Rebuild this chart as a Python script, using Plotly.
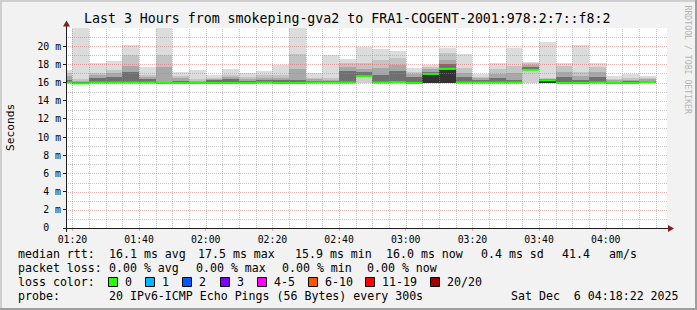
import plotly.graph_objects as go

# ---------------- data ----------------
title_text = "Last 3 Hours from smokeping-gva2 to FRA1-COGENT-2001:978:2:7::f8:2"
window_start = "01:18:22"
window_end = "04:18:22"

bar_start = ["01:15", "01:20", "01:25", "01:30", "01:35", "01:40", "01:45", "01:50",
             "01:55", "02:00", "02:05", "02:10", "02:15", "02:20", "02:25", "02:30",
             "02:35", "02:40", "02:45", "02:50", "02:55", "03:00", "03:05", "03:10",
             "03:15", "03:20", "03:25", "03:30", "03:35", "03:40", "03:45", "03:50",
             "03:55", "04:00", "04:05", "04:10"]

# values in ms
smoke_min = [15.9, 15.85, 15.9, 15.9, 15.9, 15.9, 15.85, 15.9, 15.9, 15.9, 15.9, 15.9,
             15.9, 15.9, 15.9, 15.9, 15.9, 15.9, 16.0, 15.9, 15.9, 15.9, 15.9, 15.9,
             15.9, 15.9, 15.9, 15.9, 16.0, 15.95, 15.9, 15.9, 15.9, 15.9, 15.9, 15.95]
smoke_p10 = [15.95, 15.88, 15.95, 15.95, 15.95, 15.95, 15.9, 15.92, 15.92, 15.92, 15.92, 15.92,
             15.95, 15.92, 15.92, 15.95, 15.95, 15.95, 16.6, 15.95, 16.0, 15.92, 15.95, 15.95,
             15.95, 15.95, 15.95, 15.95, 17.35, 16.0, 15.92, 15.92, 15.95, 15.92, 15.92, 16.0]
rtt_median = [16.0, 15.9, 16.0, 16.0, 16.0, 16.0, 15.95, 15.95, 15.95, 15.95, 15.95, 15.95,
              16.0, 15.95, 15.95, 16.0, 16.0, 16.0, 16.7, 16.0, 16.05, 15.95, 16.95, 17.5,
              16.0, 16.0, 16.0, 16.0, 17.4, 16.25, 15.95, 15.95, 16.0, 15.95, 15.95, 16.05]
smoke_q1 = [16.3, 16.1, 16.5, 16.6, 17.15, 16.4, 16.1, 16.2, 16.1, 16.25, 16.4, 16.2,
            16.3, 16.3, 16.25, 16.2, 16.15, 17.3, 17.15, 16.8, 17.3, 16.6, 17.2, 18.0,
            16.6, 16.3, 16.5, 16.3, 17.75, 16.35, 16.6, 16.3, 16.6, 16.1, 16.15, 16.2]
smoke_q2 = [16.7, 16.2, 16.8, 17.0, 17.8, 16.6, 17.75, 16.45, 16.2, 16.4, 16.6, 16.4,
            16.5, 16.55, 17.5, 16.35, 16.3, 17.7, 17.5, 17.6, 17.9, 16.9, 17.45, 18.5,
            17.0, 16.45, 16.9, 17.0, 17.95, 16.4, 17.2, 16.7, 17.2, 16.25, 16.3, 16.35]
smoke_q3 = [17.0, 16.35, 17.05, 17.4, 19.05, 16.8, 19.05, 16.75, 16.35, 16.55, 16.8, 16.6,
            16.8, 16.8, 19.1, 16.5, 16.5, 18.1, 18.1, 18.5, 18.7, 17.2, 17.7, 19.3,
            17.6, 16.65, 17.5, 17.85, 18.1, 16.45, 17.8, 17.15, 17.75, 16.4, 16.45, 16.5]
smoke_max = [17.4, 22.5, 18.2, 18.35, 20.1, 17.7, 22.5, 17.15, 17.4, 16.8, 17.45, 17.0,
             17.25, 17.9, 22.5, 17.1, 19.05, 18.55, 19.9, 19.7, 19.5, 17.6, 17.9, 19.85,
             19.1, 16.95, 18.2, 19.75, 18.3, 20.5, 18.1, 20.1, 18.1, 16.7, 16.95, 16.7]

y_tick_vals = [0, 2, 4, 6, 8, 10, 12, 14, 16, 18, 20]
y_tick_text = ["0\u00a0\u00a0", "2 m", "4 m", "6 m", "8 m", "10 m", "12 m", "14 m", "16 m", "18 m", "20 m"]
x_tick_labels = ["01:20", "01:40", "02:00", "02:20", "02:40", "03:00", "03:20", "03:40", "04:00"]

legend_rtt = [("median rtt:", 16), ("16.1 ms avg", 107), ("17.5 ms max", 196), ("15.9 ms min", 293),
              ("16.0 ms now", 384), ("0.4 ms sd", 479), ("41.4", 560), ("am/s", 607)]
legend_loss = [("packet loss:", 16), ("0.00 % avg", 107), ("0.00 % max", 194),
               ("0.00 % min", 280), ("0.00 % now", 365)]
loss_labels = ["0", "1", "2", "3", "4-5", "6-10", "11-19", "20/20"]
loss_colors = ["#26ff00", "#00b8ff", "#0059ff", "#7e00ff", "#ff00ff", "#ff5500", "#ff0000", "#a10000"]
loss_box_x = [108, 145, 182, 220, 257, 308, 365, 430]
probe_text = "20 IPv6-ICMP Echo Pings (56 Bytes) every 300s"
date_text = "Sat Dec  6 04:18:22 2025"
watermark = "RRDTOOL / TOBI OETIKER"

# ---------------- layout geometry (pixels) ----------------
W, H = 697, 310
PL, PR, PT, PB = 67, 667, 28, 228
MONO = "DejaVu Sans Mono"
Y_MAX = 22.0


def fx(px):
    return (px - PL) / (PR - PL)


def fy(py):
    return (PB - py) / (PB - PT)


def hm(s):
    p = [int(v) for v in s.split(":")]
    return p[0] * 60 + p[1] + (p[2] / 60.0 if len(p) > 2 else 0.0)


def nb(s):
    return s.replace(" ", "\u00a0")


step = 5.0
x_left = [hm(s) for s in bar_start]
x_center = [v + step / 2 for v in x_left]
t0, t1 = hm(window_start), hm(window_end)
x_tick_vals = [hm(s) for s in x_tick_labels]


def val2py(v):  # y value -> pixel row, snapped to pixel centre for crisp grid
    return round(PB - v * (PB - PT) / Y_MAX) + 0.5


def t2px(t):
    return round(PL + (t - t0) * (PR - PL) / (t1 - t0)) + 0.5


fig = go.Figure()

bands = [
    (smoke_min, smoke_p10, "#d0d0d0"),
    (smoke_p10, rtt_median, "#333333"),
    (rtt_median, smoke_q1, "#707070"),
    (smoke_q1, smoke_q2, "#a8a8a8"),
    (smoke_q2, smoke_q3, "#c4c4c4"),
    (smoke_q3, smoke_max, "#dcdcdc"),
]
for lo, hi, col in bands:
    fig.add_trace(go.Bar(
        x=x_center, base=lo, y=[h - l for l, h in zip(lo, hi)], width=step,
        marker=dict(color=col, line=dict(width=0)),
        hoverinfo="skip", showlegend=False))

mx, my = [], []
for xl, m in zip(x_left, rtt_median):
    mx += [xl, xl + step, None]
    my += [m, m, None]
fig.add_trace(go.Scatter(x=mx, y=my, mode="lines", line=dict(color=loss_colors[0], width=2),
                         hoverinfo="skip", showlegend=False))

shapes = []
MINOR = "rgba(143,143,143,0.5)"
MAJOR = "rgba(222,79,79,0.45)"
for v in range(1, 22):
    py = val2py(v)
    shapes.append(dict(type="line", xref="paper", yref="paper", x0=fx(PL + 1), x1=1, y0=fy(py), y1=fy(py),
                       layer="above",
                       line=dict(color=MAJOR if v % 2 == 0 else MINOR, width=1, dash="1px,1px")))
tt = 80
while tt <= t1:
    major = any(abs(tt - v) < 1e-6 for v in x_tick_vals)
    px = t2px(tt)
    shapes.append(dict(type="line", xref="paper", yref="paper", x0=fx(px), x1=fx(px), y0=0, y1=1,
                       layer="above",
                       line=dict(color=MAJOR if major else MINOR, width=1, dash="1px,1px")))
    tt += 5

AXIS = "#1f1f1f"
ARROW = "#801f1f"
shapes.append(dict(type="line", xref="paper", yref="paper", x0=fx(63), x1=fx(669), y0=fy(228.5), y1=fy(228.5),
                   line=dict(color=AXIS, width=1), layer="above"))
shapes.append(dict(type="line", xref="paper", yref="paper", x0=fx(66.5), x1=fx(66.5), y0=fy(232), y1=fy(24),
                   line=dict(color=AXIS, width=1), layer="above"))
shapes.append(dict(type="path", xref="paper", yref="paper", layer="above",
                   path="M %f,%f L %f,%f L %f,%f Z" % (fx(668), fy(225), fx(674), fy(228.5), fx(668), fy(232)),
                   fillcolor=ARROW, line=dict(width=0)))
shapes.append(dict(type="path", xref="paper", yref="paper", layer="above",
                   path="M %f,%f L %f,%f L %f,%f Z" % (fx(63), fy(26.5), fx(66.5), fy(20.5), fx(70), fy(26.5)),
                   fillcolor=ARROW, line=dict(width=0)))
shapes += [
    dict(type="rect", xref="paper", yref="paper", x0=fx(0), x1=fx(W), y0=fy(0), y1=fy(2),
         fillcolor="#cfcfcf", line=dict(width=0), layer="above"),
    dict(type="rect", xref="paper", yref="paper", x0=fx(0), x1=fx(2), y0=fy(0), y1=fy(H),
         fillcolor="#cfcfcf", line=dict(width=0), layer="above"),
    dict(type="rect", xref="paper", yref="paper", x0=fx(0), x1=fx(W), y0=fy(H - 2), y1=fy(H),
         fillcolor="#9e9e9e", line=dict(width=0), layer="above"),
    dict(type="rect", xref="paper", yref="paper", x0=fx(W - 2), x1=fx(W), y0=fy(0), y1=fy(H),
         fillcolor="#9e9e9e", line=dict(width=0), layer="above"),
]
for bx, col in zip(loss_box_x, loss_colors):
    shapes.append(dict(type="rect", xref="paper", yref="paper", x0=fx(bx + 0.5), x1=fx(bx + 9.5),
                       y0=fy(277.5), y1=fy(286.5), fillcolor=col, line=dict(color="#000000", width=1)))

LF = dict(family=MONO, size=11.6, color="#000000")
ann = []


def text(s, px, py, anchor="left", font=None):
    ann.append(dict(text=nb(s), x=fx(px), y=fy(py), xref="paper", yref="paper", showarrow=False,
                    xanchor=anchor, yanchor="middle", font=font or LF))


text(title_text, 347.5, 18.5, anchor="center", font=dict(family=MONO, size=13.25, color="#000000"))
ann.append(dict(text="Seconds", x=fx(10), y=fy(128), xref="paper", yref="paper", showarrow=False,
                xanchor="center", yanchor="middle", textangle=-90, font=dict(family=MONO, size=11.2, color="#000")))
ann.append(dict(text=nb(watermark), x=fx(687.5), y=fy(60), xref="paper", yref="paper", showarrow=False,
                xanchor="center", yanchor="middle", textangle=90,
                font=dict(family=MONO, size=8.2, color="#b4b4b4")))
for s, px in legend_rtt:
    text(s, px, 254)
for s, px in legend_loss:
    text(s, px, 268)
text("loss color:", 16, 282)
for bx, lab in zip(loss_box_x, loss_labels):
    text(lab, bx + 15, 282)
text("probe:", 16, 296)
text(probe_text, 107, 296)
text(date_text, 681, 296, anchor="right")

fig.update_layout(
    width=W, height=H,
    margin=dict(l=PL, r=W - PR, t=PT, b=H - PB, pad=0),
    paper_bgcolor="#f2f2f2", plot_bgcolor="#ffffff",
    barmode="overlay", bargap=0, showlegend=False,
    shapes=shapes, annotations=ann,
    xaxis=dict(range=[t0, t1], showgrid=False, zeroline=False, showline=False,
               tickmode="array", tickvals=x_tick_vals, ticktext=x_tick_labels,
               ticks="outside", ticklen=2, tickcolor=MAJOR,
               tickfont=dict(family=MONO, size=9.8, color="#000000"), fixedrange=True),
    yaxis=dict(range=[0, Y_MAX], showgrid=False, zeroline=False, showline=False,
               tickmode="array", tickvals=y_tick_vals, ticktext=y_tick_text,
               ticks="outside", ticklen=3, tickcolor=AXIS,
               tickfont=dict(family=MONO, size=9.8, color="#000000"), fixedrange=True),
    hovermode=False,
)

fig.write_html("out.html", config={"displayModeBar": False, "staticPlot": True})
